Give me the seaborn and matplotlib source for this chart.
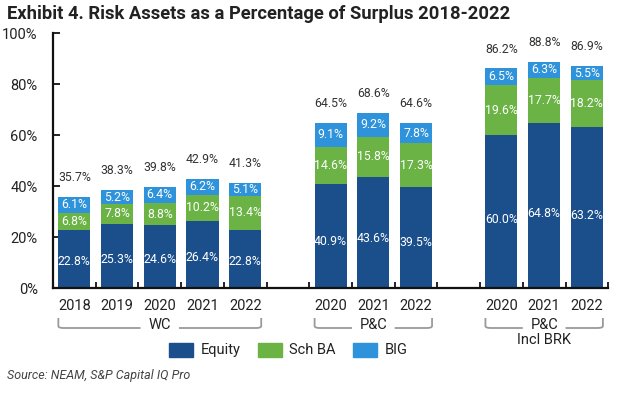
import matplotlib
matplotlib.use("Agg")
import matplotlib.pyplot as plt
import seaborn as sns
import pandas as pd
import numpy as np
from matplotlib.path import Path
from matplotlib.patches import PathPatch, Patch
import matplotlib.transforms as mtransforms

# data
years = ["2018", "2019", "2020", "2021", "2022", "2020", "2021", "2022", "2020", "2021", "2022"]
positions = [0, 1, 2, 3, 4, 6, 7, 8, 10, 11, 12]
equity = [22.8, 25.3, 24.6, 26.4, 22.8, 40.9, 43.6, 39.5, 60.0, 64.8, 63.2]
sch_ba = [6.8, 7.8, 8.8, 10.2, 13.4, 14.6, 15.8, 17.3, 19.6, 17.7, 18.2]
big = [6.1, 5.2, 6.4, 6.2, 5.1, 9.1, 9.2, 7.8, 6.5, 6.3, 5.5]
totals = [35.7, 38.3, 39.8, 42.9, 41.3, 64.5, 68.6, 64.6, 86.2, 88.8, 86.9]
groups = [("WC", 0, 4), ("P&C", 6, 8), ("P&C\nIncl BRK", 10, 12)]

C_EQ = "#1B4F8B"
C_SB = "#6AB344"
C_BIG = "#2E93DB"

df = pd.DataFrame({"pos": positions, "equity": equity, "sch_ba": sch_ba, "big": big})
df["eq_sb"] = df["equity"] + df["sch_ba"]
df["all"] = df["eq_sb"] + df["big"]

sns.set_theme(style="white")
plt.rcParams["font.family"] = ["Roboto", "DejaVu Sans"]

fig = plt.figure(figsize=(6.2, 3.93), dpi=100)
ax = fig.add_axes([0.0855, 0.267, 0.8955, 0.649])

W = 0.75
# stacked bars drawn as cumulative layers, tallest first
sns.barplot(data=df, x="pos", y="all", native_scale=True, color=C_BIG, width=W,
            saturation=1, ax=ax, edgecolor="none", linewidth=0)
sns.barplot(data=df, x="pos", y="eq_sb", native_scale=True, color=C_SB, width=W,
            saturation=1, ax=ax, edgecolor="none", linewidth=0)
sns.barplot(data=df, x="pos", y="equity", native_scale=True, color=C_EQ, width=W,
            saturation=1, ax=ax, edgecolor="none", linewidth=0)

# segment labels
for i, row in df.iterrows():
    p = row["pos"]
    ax.text(p, row["equity"] * 0.45, f"{row['equity']:.1f}%", ha="center", va="center",
            color="white", fontsize=8.8)
    ax.text(p, row["equity"] + row["sch_ba"] / 2, f"{row['sch_ba']:.1f}%", ha="center",
            va="center", color="white", fontsize=8.8)
    ax.text(p, row["eq_sb"] + row["big"] / 2, f"{row['big']:.1f}%", ha="center",
            va="center", color="white", fontsize=8.8)
    ax.annotate(f"{totals[i]:.1f}%", (p, row["all"]), xytext=(0, 14),
                textcoords="offset points", ha="center", va="center",
                color="#333333", fontsize=8.8)

ax.set_xlim(-0.5, 12.5)
ax.set_ylim(0, 100)
ax.set_yticks([0, 20, 40, 60, 80, 100])
ax.set_yticklabels([f"{v}%" for v in [0, 20, 40, 60, 80, 100]])
ax.set_xticks(positions)
ax.set_xticklabels(years)
ax.set_xlabel("")
ax.set_ylabel("")
ax.set_xticks(np.arange(0.5, 12.6, 1.0), minor=True)

for s in ["top", "right"]:
    ax.spines[s].set_visible(False)
for s in ["left", "bottom"]:
    ax.spines[s].set_color("#111111")
    ax.spines[s].set_linewidth(1.6)

ax.tick_params(axis="x", which="major", length=0, pad=8, labelsize=10.5, labelcolor="#222222")
ax.tick_params(axis="x", which="minor", direction="in", length=4, width=1.3, color="#111111",
               bottom=True)
ax.tick_params(axis="y", direction="in", length=5, width=1.3, color="#111111", left=True,
               pad=11, labelsize=10.5, labelcolor="#222222")

# group brackets below the axis
trans = mtransforms.blended_transform_factory(ax.transData, fig.transFigure)
y_top = 1 - 318 / 393
y_bot = 1 - 328 / 393
r = 0.12
for name, a, b in groups:
    x0, x1 = a - W / 2, b + W / 2
    mid = (x0 + x1) / 2
    gap = 0.45 if len(name.split("\n")[0]) <= 2 else 0.5
    for xs, xe, left in [(x0, mid - gap, True), (mid + gap, x1, False)]:
        if left:
            verts = [(xs, y_top), (xs, y_bot + 0.005), (xs, y_bot), (xs + r, y_bot), (xe, y_bot)]
        else:
            verts = [(xs, y_bot), (xe - r, y_bot), (xe, y_bot), (xe, y_bot + 0.005), (xe, y_top)]
        codes = [Path.MOVETO, Path.LINETO, Path.CURVE3, Path.CURVE3, Path.LINETO]
        fig.add_artist(PathPatch(Path(verts, codes), transform=trans, fill=False,
                                 edgecolor="#9A9A9A", linewidth=1.3))
    lines = name.split("\n")
    fig.text(mid, 1 - 325 / 393, lines[0], transform=trans, ha="center", va="center",
             fontsize=10.5, color="#222222")
    if len(lines) > 1:
        fig.text(mid, 1 - 340 / 393, lines[1], transform=trans, ha="center", va="center",
                 fontsize=10.5, color="#222222")

handles = [Patch(color=C_EQ, label="Equity"), Patch(color=C_SB, label="Sch BA"),
           Patch(color=C_BIG, label="BIG")]
fig.legend(handles=handles, loc="center", bbox_to_anchor=(0.465, 1 - 350 / 393), ncol=3,
           frameon=False, fontsize=10.5, handlelength=1.65, handleheight=1.1,
           columnspacing=1.2, handletextpad=0.5, labelcolor="#222222")

fig.text(7 / 620, 1 - 14 / 393, "Exhibit 4. Risk Assets as a Percentage of Surplus 2018-2022",
         ha="left", va="center", fontsize=13.2, fontweight="bold", color="#222222")
fig.text(7 / 620, 1 - 376 / 393, "Source: NEAM, S&P Capital IQ Pro", ha="left", va="center",
         fontsize=9, style="italic", color="#444444")

fig.savefig("out.png", dpi=100)
